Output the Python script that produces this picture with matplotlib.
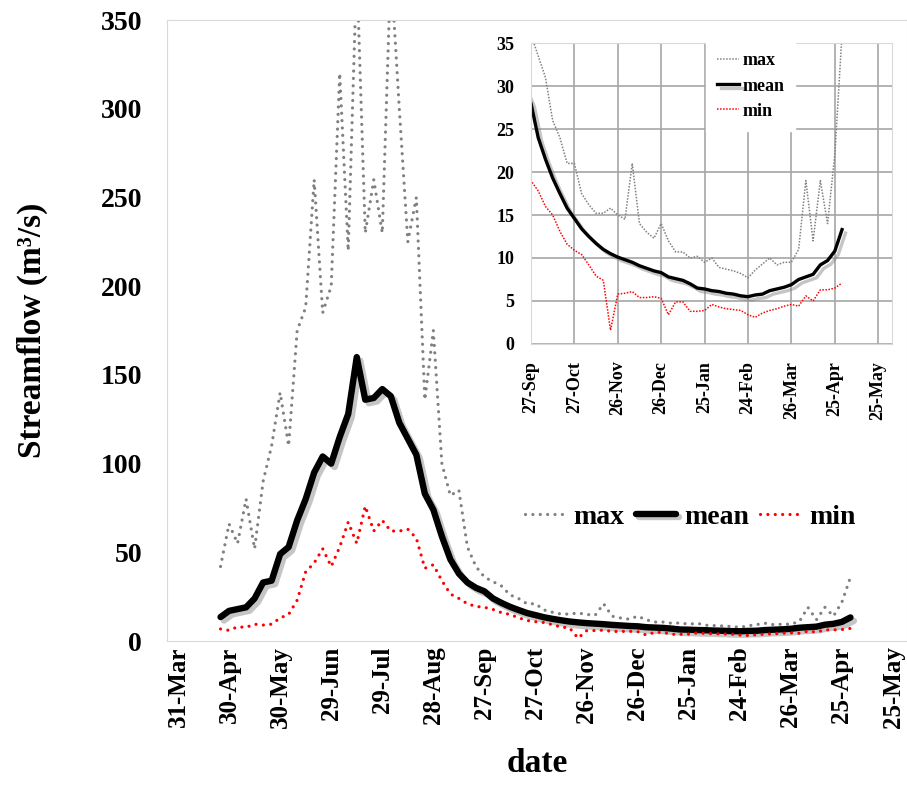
import numpy as np
import matplotlib
matplotlib.use("Agg")
import matplotlib.pyplot as plt
import matplotlib.dates as mdates
import matplotlib.patheffects as pe

plt.rcParams['font.family'] = ['Liberation Serif', 'DejaVu Serif']
plt.rcParams['font.weight'] = 'bold'

# sampling: one value every 5 days, 25-Apr-2001 .. 30-Apr-2002
start_date = np.datetime64('2001-04-25')
step_days = 5

max_flow = [42, 66, 55, 80, 52, 90, 110, 140, 110, 175,
            188, 260, 185, 200, 320, 220, 380, 230, 260, 230,
            380, 300, 225, 250, 136, 175, 100, 82, 85, 53,
            42, 36, 33.5, 31, 26, 24, 21, 21, 17.5, 16.2,
            15.2, 15.2, 15.8, 15, 14.5, 21, 14, 13, 12.3, 14,
            12, 10.7, 10.7, 10, 10.2, 9.5, 10, 8.9, 8.7, 8.5,
            8.2, 7.7, 8.6, 9.3, 10, 9.2, 9.5, 9.5, 11, 19,
            12, 19, 14, 22, 36]
mean_flow = [13.5, 17, 18, 19, 24, 33, 34, 49, 53, 68,
             80, 95, 104, 100, 115, 128, 160, 136, 137, 142,
             138, 123, 114, 105, 83, 74, 59, 46, 38, 33,
             30, 28, 24, 21.5, 19.3, 17.5, 15.8, 14.6, 13.4, 12.5,
             11.7, 11, 10.5, 10.1, 9.8, 9.5, 9.1, 8.8, 8.5, 8.3,
             7.8, 7.6, 7.4, 7.0, 6.5, 6.4, 6.2, 6.1, 5.9, 5.8,
             5.6, 5.5, 5.7, 5.8, 6.2, 6.4, 6.6, 6.9, 7.5, 7.8,
             8.1, 9.2, 9.7, 10.8, 13.3]
min_flow = [6.8, 6, 8, 7.7, 9.5, 9, 9.5, 13, 15, 23,
            39, 44, 52, 42, 53, 67, 55, 76, 62, 68,
            62, 62, 63, 58, 41, 43, 34, 26.5, 24, 21,
            19.5, 19, 17.8, 16, 15, 13.1, 11.6, 10.9, 10.4, 9.2,
            7.9, 7.4, 1.6, 5.8, 5.9, 6.1, 5.4, 5.4, 5.5, 5.3,
            3.4, 4.9, 4.9, 3.8, 3.8, 3.9, 4.6, 4.3, 4.1, 4.0,
            3.9, 3.4, 3.1, 3.6, 3.9, 4.1, 4.4, 4.6, 4.4, 5.6,
            5.0, 6.3, 6.3, 6.5, 7.1]

dates = start_date + np.arange(len(mean_flow)) * np.timedelta64(step_days, 'D')

main_ticks = np.datetime64('2001-03-31') + np.arange(15) * np.timedelta64(30, 'D')
inset_ticks = np.datetime64('2001-09-27') + np.arange(9) * np.timedelta64(30, 'D')

shadow = [pe.SimpleLineShadow(offset=(2.5, -2.5), shadow_color='gray', alpha=0.45), pe.Normal()]

fig = plt.figure(figsize=(9.07, 7.85), dpi=100)

# ---- main chart
ax = fig.add_axes([0.1841, 0.1834, 0.8159, 0.7911])
ax.plot(dates, max_flow, color='#808080', lw=2.3, linestyle=(0, (0.01, 2.3)),
        dash_capstyle='round', label='max')
ax.plot(dates, mean_flow, color='black', lw=4.6, solid_capstyle='round',
        path_effects=shadow, label='mean')
ax.plot(dates, min_flow, color='red', lw=2.3, linestyle=(0, (0.01, 2.3)),
        dash_capstyle='round', label='min')

x0 = mdates.date2num(main_ticks[0]) - 6.46
x1 = mdates.date2num(main_ticks[-1]) + 8.2
ax.set_xlim(x0, x1)
ax.set_ylim(0, 350)
ax.set_yticks(np.arange(0, 351, 50))
ax.set_xticks(main_ticks)
ax.xaxis.set_major_formatter(mdates.DateFormatter('%d-%b'))
ax.tick_params(axis='x', length=0, pad=4, labelsize=18, labelrotation=90)
ax.tick_params(axis='y', length=0, pad=18, labelsize=20)
for s in ax.spines.values():
    s.set_color('#d9d9d9')
ax.set_ylabel('Streamflow (m³/s)', fontsize=24, fontweight='bold', labelpad=38)
ax.set_xlabel('date', fontsize=24, fontweight='bold', labelpad=14)

ax.legend(loc='center', bbox_to_anchor=(0.761, 0.3414), bbox_transform=fig.transFigure,
          ncol=3, frameon=False, fontsize=20, handlelength=1.45, handletextpad=0.3,
          columnspacing=0.4)

# ---- inset chart
ins = fig.add_axes([0.5854, 0.5618, 0.398, 0.3834])
ins.set_facecolor('white')
ins.plot(dates, max_flow, color='#808080', lw=1.1, linestyle=(0, (1, 1)), label='max')
ins.plot(dates, mean_flow, color='black', lw=2.4, path_effects=shadow, label='mean')
ins.plot(dates, min_flow, color='red', lw=1.1, linestyle=(0, (1, 1)), label='min')

ix0 = mdates.date2num(inset_ticks[0])
ins.set_xlim(ix0, ix0 + 249.5)
ins.set_ylim(0, 35)
ins.set_yticks(np.arange(0, 36, 5))
ins.set_xticks(inset_ticks)
ins.xaxis.set_major_formatter(mdates.DateFormatter('%d-%b'))
ins.grid(True, color='#a6a6a6', lw=1.2)
ins.set_axisbelow(True)
ins.tick_params(axis='x', length=0, pad=12, labelsize=13, labelrotation=90)
ins.tick_params(axis='y', length=0, pad=12, labelsize=13)
for s in ins.spines.values():
    s.set_color('#d9d9d9')
ins.legend(loc='center', bbox_to_anchor=(0.609, 0.857), fontsize=13,
           handlelength=1.2, handletextpad=0.2, labelspacing=0.45,
           borderpad=0.6, borderaxespad=0, fancybox=False, framealpha=1,
           edgecolor='white')

fig.savefig('out.png', dpi=100)
